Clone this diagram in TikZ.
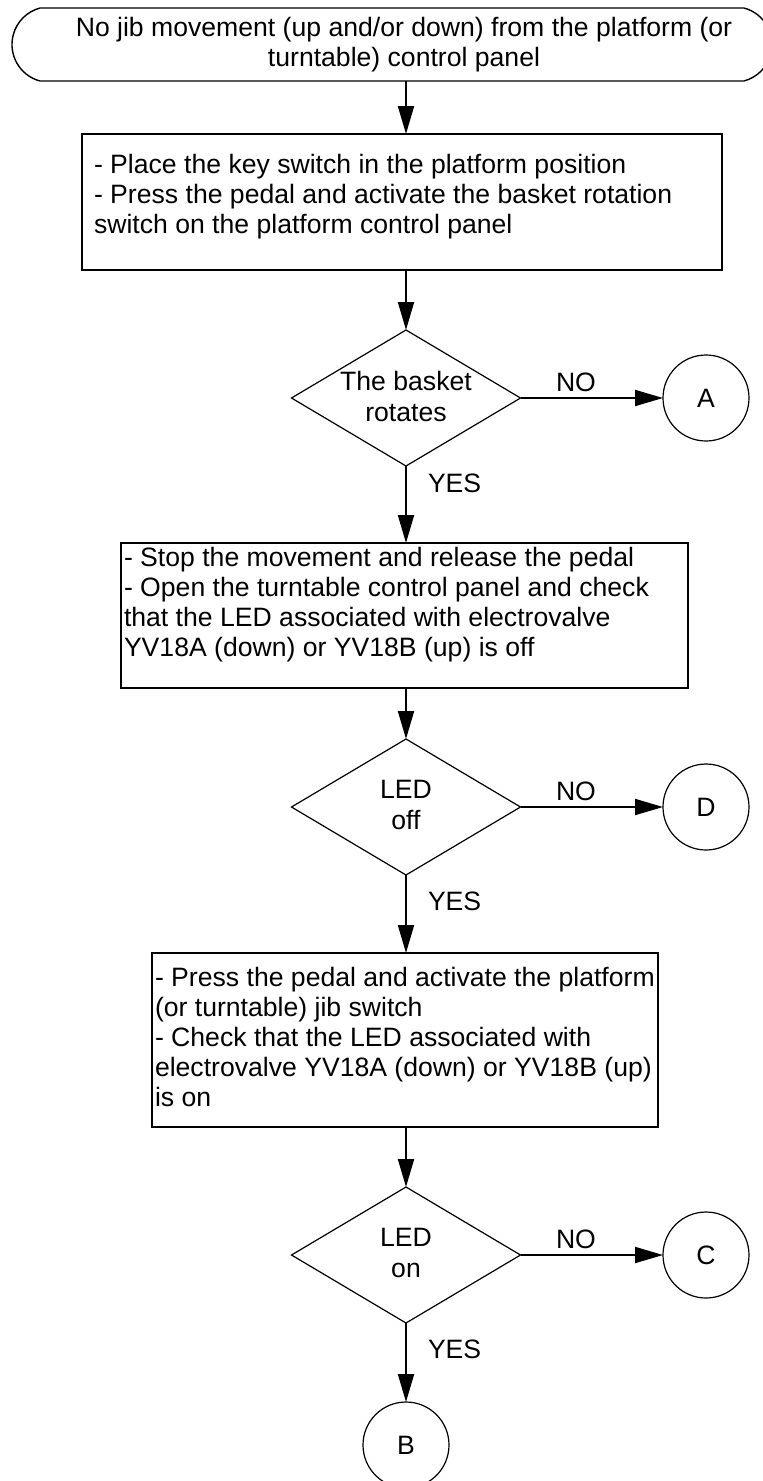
\documentclass[tikz,border=0pt]{standalone}
\usepackage{fontspec}
\setmainfont{Liberation Sans}
\usetikzlibrary{shapes.geometric,shapes.misc,arrows.meta}
\begin{document}
\begin{tikzpicture}[x=1pt,y=-1pt,
  every node/.style={font=\fontsize{26.6}{30}\selectfont, inner sep=0pt, outer sep=0pt},
  termshape/.style={draw, line width=1.4pt, rounded rectangle, rounded rectangle arc length=150, minimum width=760pt, minimum height=73pt},
  boxshape/.style={draw, line width=2pt, rectangle, anchor=north west},
  dec/.style={draw, line width=1.2pt, diamond, minimum width=229pt, minimum height=136pt},
  conn/.style={draw, line width=1.2pt, circle, minimum size=86pt},
  arr/.style={line width=2pt, -{Triangle[length=28pt,width=16pt]}},
  lbl/.style={anchor=west},
  txt/.style={align=left, anchor=north west},
  dtxt/.style={align=center, font=\fontsize{26.6}{31}\selectfont},
]
\useasboundingbox (0,0) rectangle (763,1481);

% start terminal
\node[termshape] (term) at (392,44.5) {};
\node[align=center] (termtxt) at (404,44.5) {No jib movement (up and/or down) from the platform (or\\turntable) control panel};

% box 1
\node[boxshape, minimum width=640pt, minimum height=136pt] (b1) at (82,134) {};
\node[txt] (t1) at (94,154.6) {- Place the key switch in the platform position\\- Press the pedal and activate the basket rotation\\switch on the platform control panel};

% decision 1
\node[dec] (d1) at (406,398) {};
\node[dtxt] (dt1) at (406,396) {The basket\\rotates};
\node[conn] (cA) at (706,398) {A};

% box 2
\node[boxshape, minimum width=567pt, minimum height=145pt] (b2) at (121,543) {};
\node[txt] (t2) at (124,547.6) {- Stop the movement and release the pedal\\- Open the turntable control panel and check\\that the LED associated with electrovalve\\YV18A (down) or YV18B (up) is off};

% decision 2
\node[dec] (d2) at (406,807) {};
\node[dtxt] (dt2) at (406,805) {LED\\off};
\node[conn] (cD) at (706,807) {D};

% box 3
\node[boxshape, minimum width=506pt, minimum height=174pt] (b3) at (152,953) {};
\node[txt] (t3) at (155,967.6) {- Press the pedal and activate the platform\\(or turntable) jib switch\\- Check that the LED associated with\\electrovalve YV18A (down) or YV18B (up)\\is on};

% decision 3
\node[dec] (d3) at (406,1255) {};
\node[dtxt] (dt3) at (406,1253) {LED\\on};
\node[conn] (cC) at (706,1255) {C};
\node[conn] (cB) at (406,1445) {B};

% labels
\node[lbl] (no1) at (556,382) {NO};
\node[lbl] (no2) at (556,791) {NO};
\node[lbl] (no3) at (556,1239) {NO};
\node[lbl] (yes1) at (428,483) {YES};
\node[lbl] (yes2) at (428,901) {YES};
\node[lbl] (yes3) at (428,1349) {YES};

% connectors
\draw[arr] (term.south -| d1.north) -- (b1.north -| d1.north);
\draw[arr] (b1.south -| d1.north) -- (d1.north);
\draw[arr] (d1.east) -- (cA.west);
\draw[arr] (d1.south) -- (b2.north -| d1.south);
\draw[arr] (b2.south -| d2.north) -- (d2.north);
\draw[arr] (d2.east) -- (cD.west);
\draw[arr] (d2.south) -- (b3.north -| d2.south);
\draw[arr] (b3.south -| d3.north) -- (d3.north);
\draw[arr] (d3.east) -- (cC.west);
\draw[arr] (d3.south) -- (cB.north);
\end{tikzpicture}
\end{document}
